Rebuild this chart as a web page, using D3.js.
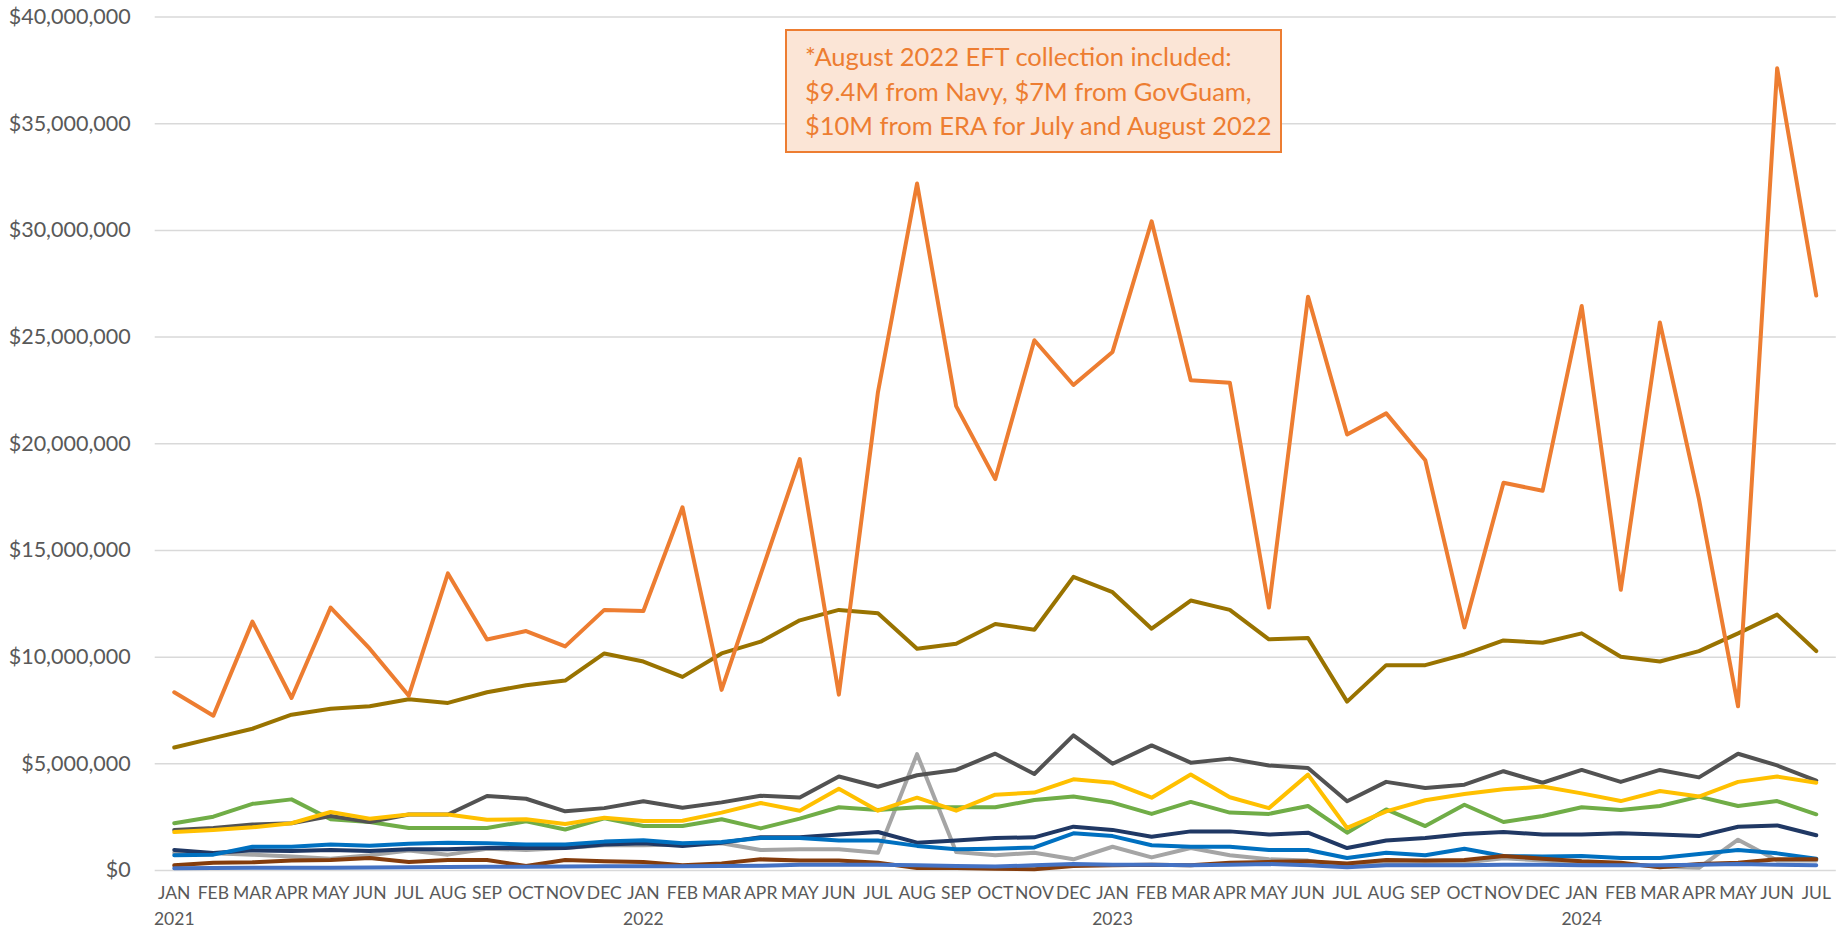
<!DOCTYPE html>
<head>
  <meta charset="utf-8">
  <script src="https://d3js.org/d3.v7.min.js"></script>
  <style>
    body { margin:0; background:#fff; }
    svg { display:block; font-family: Lato, "Liberation Sans", sans-serif; }
  </style>
</head>

<body>
  <svg width="1846" height="929"></svg>
  <script>
    // months JAN 2021 .. JUL 2024
    var months = ['JAN','FEB','MAR','APR','MAY','JUN','JUL','AUG','SEP','OCT','NOV','DEC',
                  'JAN','FEB','MAR','APR','MAY','JUN','JUL','AUG','SEP','OCT','NOV','DEC',
                  'JAN','FEB','MAR','APR','MAY','JUN','JUL','AUG','SEP','OCT','NOV','DEC',
                  'JAN','FEB','MAR','APR','MAY','JUN','JUL'];
    // year label sits under each JAN
    var years = [{i: 0, label: '2021'}, {i: 12, label: '2022'}, {i: 24, label: '2023'}, {i: 36, label: '2024'}];
    var yTicks = [0, 5, 10, 15, 20, 25, 30, 35, 40]; // millions

    // monthly collections, in millions of dollars
    var lightGray = [0.81, 0.78, 0.72, 0.63, 0.53, 0.69, 0.91, 0.72, 1.0, 0.94, 1.03, 1.16,
                     1.16, 1.19, 1.25, 0.94, 0.97, 0.97, 0.81, 5.43, 0.84, 0.69, 0.81, 0.5,
                     1.09, 0.59, 1.03, 0.69, 0.5, 0.44, 0.19, 0.35, 0.35, 0.35, 0.55, 0.45,
                     0.35, 0.3, 0.15, 0.1, 1.42, 0.45, 0.45];
    var navy = [0.94, 0.8, 0.92, 0.89, 0.94, 0.89, 0.97, 0.97, 1.03, 1.03, 1.03, 1.19,
                1.25, 1.13, 1.28, 1.54, 1.53, 1.66, 1.78, 1.28, 1.38, 1.5, 1.53, 2.03,
                1.88, 1.56, 1.81, 1.81, 1.66, 1.75, 1.03, 1.38, 1.5, 1.69, 1.78, 1.66,
                1.66, 1.72, 1.66, 1.59, 2.03, 2.09, 1.63];
    var blue = [0.69, 0.72, 1.09, 1.09, 1.2, 1.14, 1.23, 1.28, 1.25, 1.19, 1.19, 1.33,
                1.39, 1.25, 1.31, 1.5, 1.5, 1.38, 1.38, 1.13, 0.97, 1.0, 1.06, 1.72,
                1.59, 1.16, 1.09, 1.09, 0.94, 0.94, 0.56, 0.81, 0.69, 1.0, 0.66, 0.63,
                0.66, 0.56, 0.56, 0.75, 0.94, 0.78, 0.53];
    var brown = [0.22, 0.34, 0.36, 0.44, 0.47, 0.56, 0.38, 0.47, 0.47, 0.19, 0.47, 0.41,
                 0.38, 0.22, 0.31, 0.5, 0.44, 0.44, 0.34, 0.09, 0.09, 0.06, 0.03, 0.19,
                 0.22, 0.25, 0.22, 0.34, 0.38, 0.41, 0.31, 0.47, 0.44, 0.47, 0.66, 0.53,
                 0.41, 0.34, 0.13, 0.28, 0.34, 0.5, 0.5];
    var midBlue = [0.08, 0.09, 0.1, 0.1, 0.11, 0.12, 0.13, 0.14, 0.15, 0.15, 0.16, 0.17,
                   0.18, 0.18, 0.19, 0.2, 0.25, 0.25, 0.25, 0.22, 0.19, 0.16, 0.22, 0.28,
                   0.25, 0.25, 0.22, 0.25, 0.28, 0.22, 0.13, 0.22, 0.22, 0.22, 0.25, 0.25,
                   0.22, 0.22, 0.22, 0.25, 0.28, 0.25, 0.22];
    var green = [2.19, 2.5, 3.1, 3.31, 2.38, 2.25, 1.97, 1.97, 1.97, 2.28, 1.9, 2.42,
                 2.06, 2.06, 2.38, 1.95, 2.41, 2.94, 2.81, 2.94, 2.94, 2.94, 3.28, 3.44,
                 3.16, 2.63, 3.19, 2.69, 2.63, 3.0, 1.75, 2.84, 2.06, 3.06, 2.25, 2.53,
                 2.94, 2.81, 3.0, 3.44, 3.0, 3.23, 2.61];
    var darkGray = [1.88, 1.97, 2.13, 2.19, 2.53, 2.25, 2.6, 2.6, 3.47, 3.34, 2.75, 2.9,
                    3.22, 2.92, 3.17, 3.48, 3.4, 4.38, 3.9, 4.44, 4.69, 5.45, 4.5, 6.31,
                    4.98, 5.84, 5.03, 5.22, 4.9, 4.78, 3.22, 4.13, 3.84, 4.0, 4.63, 4.09,
                    4.69, 4.13, 4.69, 4.34, 5.45, 4.9, 4.19];
    var gold = [1.78, 1.88, 2.0, 2.19, 2.72, 2.4, 2.6, 2.6, 2.36, 2.38, 2.16, 2.45,
                2.3, 2.31, 2.69, 3.14, 2.78, 3.81, 2.78, 3.39, 2.78, 3.53, 3.63, 4.25,
                4.09, 3.39, 4.48, 3.41, 2.9, 4.47, 1.97, 2.75, 3.27, 3.56, 3.78, 3.91,
                3.59, 3.23, 3.7, 3.44, 4.13, 4.38, 4.09];
    var olive = [5.74, 6.18, 6.62, 7.28, 7.56, 7.67, 8.0, 7.83, 8.33, 8.66, 8.88, 10.15,
                 9.77, 9.05, 10.15, 10.7, 11.7, 12.19, 12.03, 10.37, 10.6, 11.53, 11.26, 13.74,
                 13.02, 11.31, 12.63, 12.19, 10.81, 10.87, 7.89, 9.6, 9.6, 10.1, 10.76, 10.65,
                 11.09, 9.99, 9.77, 10.26, 11.09, 11.97, 10.26];
    var orange = [8.33, 7.23, 11.64, 8.06, 12.3, 10.37, 8.17, 13.9, 10.8, 11.2, 10.48, 12.19,
                  12.14, 17.0, 8.44, 13.85, 19.26, 8.22, 22.4, 32.17, 21.74, 18.32, 24.83, 22.73,
                  24.28, 30.4, 22.95, 22.84, 12.3, 26.87, 20.41, 21.4, 19.2, 11.37, 18.15, 17.77,
                  26.43, 13.13, 25.66, 17.38, 7.67, 37.57, 26.92];

    var note = ['*August 2022 EFT collection included:',
                '$9.4M from Navy, $7M from GovGuam,',
                '$10M from ERA for July and August 2022'];

    var series = [
      {values: lightGray, color: '#A5A5A5'},
      {values: navy, color: '#203864'},
      {values: blue, color: '#0070C0'},
      {values: brown, color: '#843C0C'},
      {values: midBlue, color: '#4472C4'},
      {values: green, color: '#70AD47'},
      {values: darkGray, color: '#525252'},
      {values: gold, color: '#FFC000'},
      {values: olive, color: '#997300'},
      {values: orange, color: '#ED7D31'}
    ];

    var plot = {left: 154.7, right: 1835.8, top: 16.5, bottom: 870};
    var svg = d3.select('svg');

    var xScale = d3.scaleBand()
      .domain(d3.range(months.length))
      .range([plot.left, plot.right]);
    var xMid = i => xScale(i) + xScale.bandwidth() / 2;

    var yScale = d3.scaleLinear()
      .domain([0, 40])
      .range([plot.bottom, plot.top]);

    // gridlines + dollar labels
    var yAxis = d3.axisLeft(yScale)
      .tickValues(yTicks)
      .tickSize(-(plot.right - plot.left))
      .tickPadding(24)
      .tickFormat(d => '$' + d3.format(',')(d * 1e6));

    var gy = svg.append('g')
      .attr('transform', 'translate(' + plot.left + ',0)')
      .call(yAxis);
    gy.select('.domain').remove();
    gy.selectAll('line').attr('stroke', '#D9D9D9').attr('stroke-width', 1.5);
    gy.selectAll('text')
      .attr('fill', '#595959')
      .style('font-size', '21.5px')
      .style('font-family', 'Lato, sans-serif');

    // month labels
    var xAxis = d3.axisBottom(xScale)
      .tickSize(0)
      .tickPadding(17)
      .tickFormat(i => months[i]);
    var gx = svg.append('g')
      .attr('transform', 'translate(0,' + plot.bottom + ')')
      .call(xAxis);
    gx.select('.domain').remove();
    gx.selectAll('text')
      .attr('fill', '#595959')
      .style('font-size', '17.5px')
      .style('font-family', 'Lato, sans-serif');

    svg.append('g').selectAll('text')
      .data(years)
      .enter().append('text')
      .attr('x', d => xMid(d.i))
      .attr('y', 925)
      .attr('text-anchor', 'middle')
      .attr('fill', '#595959')
      .style('font-size', '17.5px')
      .text(d => d.label);

    // lines
    var line = d3.line()
      .x((d, i) => xMid(i))
      .y(d => yScale(d));

    svg.append('g').selectAll('path')
      .data(series)
      .enter().append('path')
      .attr('d', d => line(d.values))
      .attr('fill', 'none')
      .attr('stroke', d => d.color)
      .attr('stroke-width', 4)
      .attr('stroke-linejoin', 'round')
      .attr('stroke-linecap', 'round');

    // annotation box
    var box = svg.append('g').attr('transform', 'translate(786,30)');
    box.append('rect')
      .attr('width', 495)
      .attr('height', 122)
      .attr('fill', '#FBE5D6')
      .attr('stroke', '#ED7D31')
      .attr('stroke-width', 2);
    box.selectAll('text')
      .data(note)
      .enter().append('text')
      .attr('x', 19)
      .attr('y', (d, i) => 36 + i * 34.5)
      .attr('fill', '#ED7D31')
      .style('font-size', '25.5px')
      .text(d => d);
  </script>
</body>
